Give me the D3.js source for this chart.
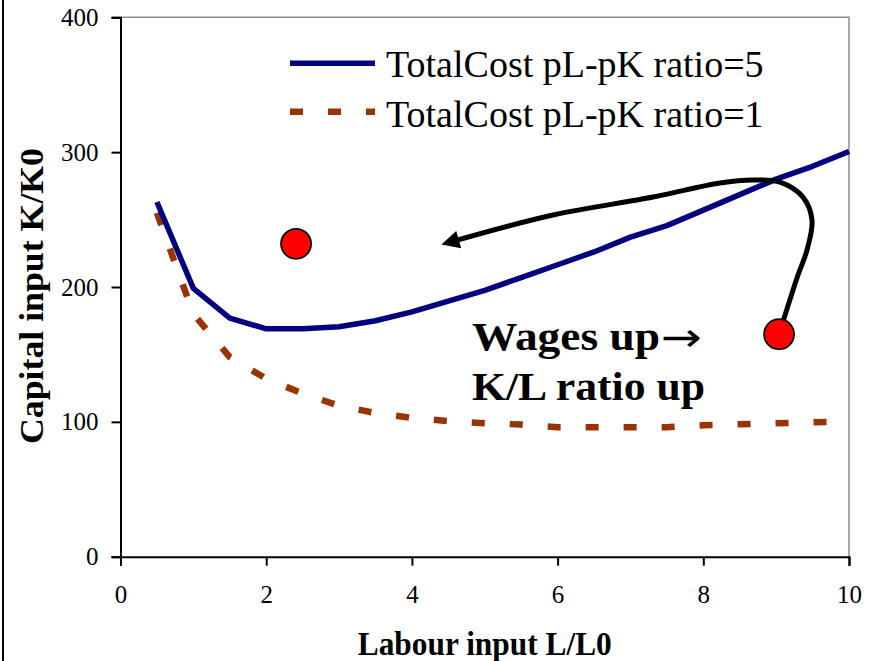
<!DOCTYPE html>
<html>
<head>
<meta charset="utf-8">
<script src="https://cdn.jsdelivr.net/npm/d3@7"></script>
<style>
  html, body { margin: 0; padding: 0; background: #fff; }
  svg { display: block; }
</style>
</head>
<body>
<script>
// ---- Data ----
const labourL = [0.5, 1, 1.5, 2, 2.5, 3, 3.5, 4, 4.5, 5, 5.5, 6, 6.5, 7, 7.5, 8, 8.5, 9, 9.5, 10];
const capitalRatio5 = [263, 199, 177, 169, 169, 170.5, 175, 181.5, 189.5, 197.5, 207, 216.5, 226, 237, 245.5, 257, 268.5, 280, 289.5, 300.5];
const capitalRatio1 = [255, 180, 148, 132, 121, 112, 106.5, 103, 100.5, 99, 98, 96, 96, 96, 96, 97.5, 98.2, 99, 99.7, 100];
const seriesNames = ["TotalCost pL-pK ratio=5", "TotalCost pL-pK ratio=1"];
const xTicks = [0, 2, 4, 6, 8, 10];
const yTicks = [0, 100, 200, 300, 400];
const pointsX = [2.41, 9.04];
const pointsY = [232, 165];
const arrowX = [9.04, 9.286, 9.423, 9.492, 9.368, 9.052, 8.682, 8.229, 7.31, 5.937, 4.5];
const arrowY = [165, 206.7, 227.4, 249.7, 266.7, 277.8, 279.3, 277.1, 266.7, 253.4, 232.9];
const annotationLine1 = "Wages up";
const annotationArrow = "\u2192";
const annotationLine2 = "K/L ratio up";
const xTitle = "Labour input L/L0";
const yTitle = "Capital input K/K0";

// ---- Layout ----
const W = 869, H = 661;
const m = { left: 120.5, right: 849, top: 17.3, bottom: 556.7 };
const serif = "'Liberation Serif', 'Times New Roman', serif";

const svg = d3.select("body").append("svg").attr("width", W).attr("height", H);
svg.append("rect").attr("width", W).attr("height", H).attr("fill", "#fff");

svg.append("line").attr("x1", 3).attr("x2", 3).attr("y1", 0).attr("y2", H)
  .attr("stroke", "#000").attr("stroke-width", 2);

const x = d3.scaleLinear().domain([0, 10]).range([m.left, m.right]);
const y = d3.scaleLinear().domain([0, 400]).range([m.bottom, m.top]);

svg.append("path")
  .attr("d", `M${x(0)},${y(400)}H${x(10)}V${y(0)}`)
  .attr("fill", "none").attr("stroke", "#8c8c8c").attr("stroke-width", 1.5);

const xAxis = svg.append("g").attr("transform", `translate(0,${y(0)})`)
  .call(d3.axisBottom(x).tickValues(xTicks).tickSize(9).tickPadding(20).tickFormat(d3.format("d")));
const yAxis = svg.append("g").attr("transform", `translate(${x(0)},0)`)
  .call(d3.axisLeft(y).tickValues(yTicks).tickSize(9).tickPadding(13).tickFormat(d3.format("d")));
[xAxis, yAxis].forEach(g => {
  g.attr("font-family", null).attr("font-size", null);
  g.select(".domain").attr("stroke", "#000").attr("stroke-width", 2);
  g.selectAll(".tick line").attr("stroke", "#000").attr("stroke-width", 2);
  g.selectAll("text").style("font-family", serif).style("font-size", "25px").attr("fill", "#000");
});
xAxis.selectAll("text").attr("dy", "0.71em");

svg.append("text").attr("x", (m.left + m.right) / 2).attr("y", 655)
  .attr("text-anchor", "middle").attr("font-weight", "bold").style("font-family", serif).style("font-size", "33px")
  .attr("textLength", 254).attr("lengthAdjust", "spacingAndGlyphs")
  .text(xTitle);
svg.append("text").attr("transform", `translate(43,${296}) rotate(-90)`)
  .attr("text-anchor", "middle").attr("font-weight", "bold").style("font-family", serif).style("font-size", "33px")
  .attr("textLength", 296).attr("lengthAdjust", "spacingAndGlyphs")
  .text(yTitle);

const line = d3.line().x((d, i) => x(labourL[i])).y(d => y(d));
svg.append("path").datum(capitalRatio1).attr("d", line)
  .attr("fill", "none").attr("stroke", "#993300").attr("stroke-width", 6.5)
  .attr("stroke-dasharray", "13,25");
svg.append("path").datum(capitalRatio5).attr("d", line)
  .attr("fill", "none").attr("stroke", "#000080").attr("stroke-width", 5.5)
  .attr("stroke-linejoin", "round");

const legend = svg.append("g");
const lgRows = [
  { y: 63.3, ty: 76.7, color: "#000080", w: 5.5, dash: null },
  { y: 111.7, ty: 126.7, color: "#993300", w: 6.5, dash: "13,25" }
];
lgRows.forEach((r, i) => {
  legend.append("line").attr("x1", 290).attr("x2", 375).attr("y1", r.y).attr("y2", r.y)
    .attr("stroke", r.color).attr("stroke-width", r.w).attr("stroke-dasharray", r.dash);
  legend.append("text").attr("x", 386).attr("y", r.ty).style("font-family", serif).style("font-size", "38px")
    .attr("fill", "#000").text(seriesNames[i]);
});

const defs = svg.append("defs");
defs.append("marker").attr("id", "ah").attr("viewBox", "0 0 10 10")
  .attr("refX", 6).attr("refY", 5).attr("markerUnits", "userSpaceOnUse")
  .attr("markerWidth", 21).attr("markerHeight", 18).attr("orient", "auto")
  .append("path").attr("d", "M0,0L10,5L0,10z").attr("fill", "#000");
const arrowLine = d3.line().x((d, i) => x(arrowX[i])).y(d => y(d)).curve(d3.curveCatmullRom.alpha(0.5));
svg.append("path").datum(arrowY).attr("d", arrowLine)
  .attr("fill", "none").attr("stroke", "#000").attr("stroke-width", 5)
  .attr("marker-end", "url(#ah)");

svg.selectAll("circle.pt").data(pointsX).join("circle").attr("class", "pt")
  .attr("cx", d => x(d)).attr("cy", (d, i) => y(pointsY[i])).attr("r", 15)
  .attr("fill", "#ff0000").attr("stroke", "#000").attr("stroke-width", 1.8);

svg.append("text").attr("x", 472).attr("y", 350).attr("font-weight", "bold")
  .style("font-family", serif).style("font-size", "40px")
  .attr("textLength", 188).attr("lengthAdjust", "spacingAndGlyphs").text(annotationLine1);
svg.append("text").attr("x", 661).attr("y", 351)
  .style("font-family", "'DejaVu Sans', sans-serif").style("font-size", "40px")
  .attr("textLength", 41).attr("lengthAdjust", "spacingAndGlyphs").text(annotationArrow);
svg.append("text").attr("x", 472).attr("y", 400).attr("font-weight", "bold")
  .style("font-family", serif).style("font-size", "40px")
  .attr("textLength", 233).attr("lengthAdjust", "spacingAndGlyphs").text(annotationLine2);
</script>
</body>
</html>
